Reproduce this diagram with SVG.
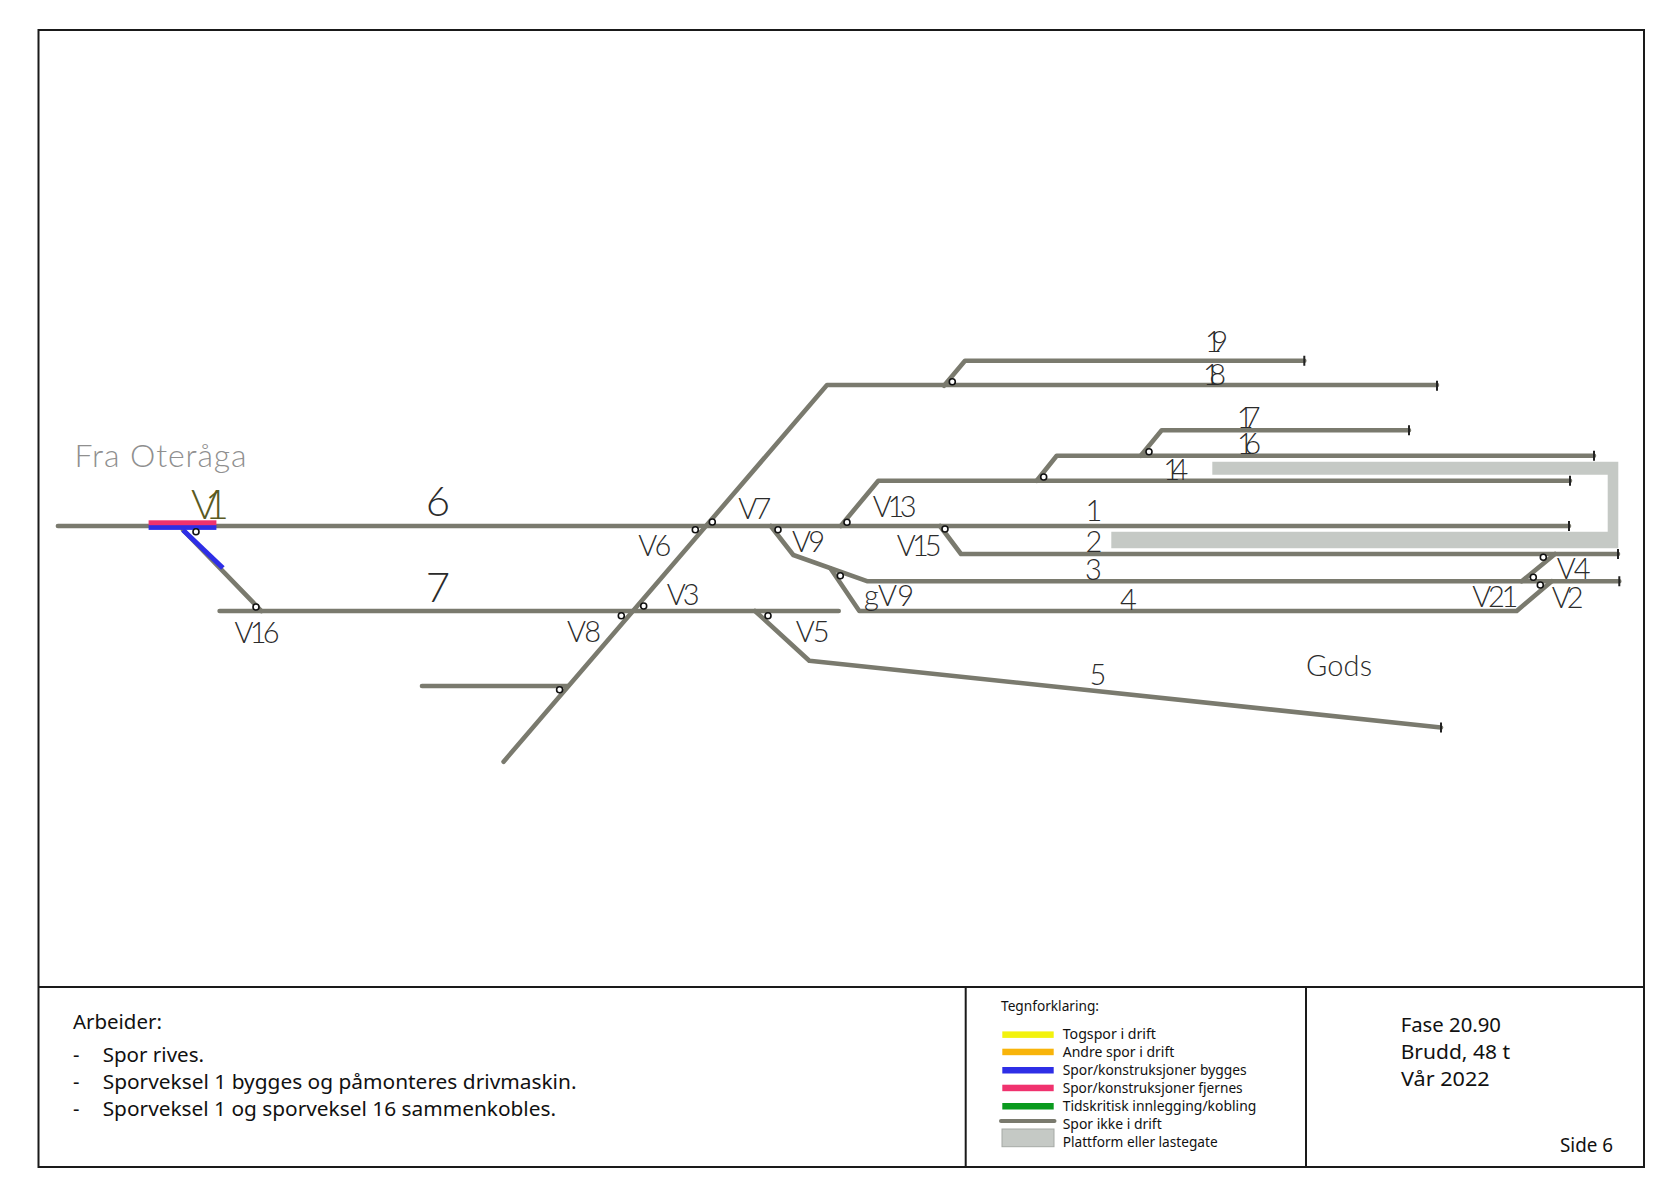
<svg xmlns="http://www.w3.org/2000/svg" width="1680" height="1188" viewBox="0 0 1680 1188">
<style>
.frame{fill:none;stroke:#1a1a1a;stroke-width:2}
.t{fill:none;stroke:#7a7a6e;stroke-width:4.6;stroke-linecap:round;stroke-linejoin:round}
.tick{stroke:#222;stroke-width:2;fill:none}
.sw{fill:#fff;stroke:#111;stroke-width:1.6}
.plat{fill:#c5c9c5}
.cad{font-family:"Lato","Liberation Sans",sans-serif;font-weight:300;fill:#2b2b2b}
.s29{font-size:29px}
.s40{font-size:42px}
.ui{font-family:"Noto Sans","Open Sans",sans-serif;fill:#111}
.leg{font-size:14px}
.main{font-size:20px}
</style>
<rect width="1680" height="1188" fill="#fff"/>
<g id="frame">
<rect class="frame" x="38.5" y="30" width="1605.5" height="1137"/>
<path class="frame" d="M38.5 987H1644M965.7 987V1167M1306 987V1167"/>
</g>
<g id="platforms">
<path class="plat" d="M1212.3 461.7H1618.3V548.3H1111.3V531.7H1607.7V474.7H1212.3Z"/>
</g>
<g id="connectors">
<path class="t" d="M57.9 526H1569"/>
<path class="t" d="M183 530L261.4 611"/>
<path class="t" d="M219.6 611H838.7"/>
<path class="t" d="M503.6 761.7L827 385H1437"/>
<path class="t" d="M422 686H568"/>
<path class="t" d="M944 385.7L965 360.7H1304.3"/>
<path class="t" d="M840.7 526L878.3 480.7H1570"/>
<path class="t" d="M1036.7 480.7L1056.7 455.7H1594"/>
<path class="t" d="M1140.7 455.7L1161.7 430.3H1409"/>
<path class="t" d="M940 526L961 554H1618"/>
<path class="t" d="M770.7 526L793.3 555L867.7 581.3H1619.3"/>
<path class="t" d="M830.7 568.7L859.3 611H1516.7L1551.7 581.3"/>
<path class="t" d="M1521.7 581.3L1555 554"/>
<path class="t" d="M755 611L809.3 660.7L1441 727.5"/>
<path d="M183 530L222.9 568" fill="none" stroke="#2e2ee6" stroke-width="5"/>
<rect x="148.6" y="525" width="67.8" height="4.9" fill="#2e2ee6"/>
<rect x="148.6" y="520.3" width="67.8" height="4.9" fill="#f0326e"/>
<path class="tick" d="M1304.3 355.7v10M1437 380.7v10M1409 425.3v10M1594 450.7v10M1570 475.7v10M1569 521v10M1618 549v10M1619.3 576.3v10M1441 722.5v10"/>
</g>
<g id="switches">
<circle class="sw" cx="196" cy="531.7" r="3"/>
<circle class="sw" cx="256" cy="607" r="3"/>
<circle class="sw" cx="559.6" cy="689.7" r="3"/>
<circle class="sw" cx="621.3" cy="615.7" r="3"/>
<circle class="sw" cx="643.7" cy="606" r="3"/>
<circle class="sw" cx="695.3" cy="529.7" r="3"/>
<circle class="sw" cx="712.3" cy="522" r="3"/>
<circle class="sw" cx="768" cy="615.7" r="3"/>
<circle class="sw" cx="778" cy="529.7" r="3"/>
<circle class="sw" cx="840.3" cy="575.7" r="3"/>
<circle class="sw" cx="847" cy="522.3" r="3"/>
<circle class="sw" cx="945" cy="529" r="3"/>
<circle class="sw" cx="952.3" cy="381.7" r="3"/>
<circle class="sw" cx="1043.7" cy="477" r="3"/>
<circle class="sw" cx="1149" cy="451.7" r="3"/>
<circle class="sw" cx="1543.3" cy="557.3" r="3"/>
<circle class="sw" cx="1533.3" cy="577.3" r="3"/>
<circle class="sw" cx="1540.3" cy="585" r="3"/>
</g>
<g id="labels">
<text class="cad" x="74.6" y="466.7" font-size="32" textLength="172" lengthAdjust="spacing" style="fill:#8f8f8f">Fra Oteråga</text>
<text class="cad s40" x="191" y="519.3" textLength="38" lengthAdjust="spacing" style="fill:#5a5a22">V1</text>
<text class="cad s40" x="438" y="516" text-anchor="middle">6</text>
<text class="cad s40" x="438" y="601.7" text-anchor="middle">7</text>
<text class="cad s29" x="234.6" y="642.7" textLength="45" lengthAdjust="spacing">V16</text>
<text class="cad s29" x="567" y="641.7" textLength="34" lengthAdjust="spacing">V8</text>
<text class="cad s29" x="738.3" y="519" textLength="33" lengthAdjust="spacing">V7</text>
<text class="cad s29" x="638.3" y="556" textLength="33" lengthAdjust="spacing">V6</text>
<text class="cad s29" x="792" y="551.7" textLength="33" lengthAdjust="spacing">V9</text>
<text class="cad s29" x="872.7" y="516.7" textLength="44" lengthAdjust="spacing">V13</text>
<text class="cad s29" x="896.7" y="556" textLength="45" lengthAdjust="spacing">V15</text>
<text class="cad s29" x="666.7" y="604.7" textLength="33" lengthAdjust="spacing">V3</text>
<text class="cad s29" x="795.7" y="642" textLength="34" lengthAdjust="spacing">V5</text>
<text class="cad s29" x="864" y="606" textLength="50" lengthAdjust="spacing">gV9</text>
<text class="cad s29" x="1556.7" y="578.7" textLength="34" lengthAdjust="spacing">V4</text>
<text class="cad s29" x="1472.3" y="606.7" textLength="46" lengthAdjust="spacing">V21</text>
<text class="cad s29" x="1551.7" y="608" textLength="32" lengthAdjust="spacing">V2</text>
<text class="cad s29" x="1205" y="351.7" textLength="23" lengthAdjust="spacing">19</text>
<text class="cad s29" x="1203" y="385" textLength="23" lengthAdjust="spacing">18</text>
<text class="cad s29" x="1236.7" y="427.7" textLength="24" lengthAdjust="spacing">17</text>
<text class="cad s29" x="1237" y="454.3" textLength="24" lengthAdjust="spacing">16</text>
<text class="cad s29" x="1163.3" y="480" textLength="25" lengthAdjust="spacing">14</text>
<text class="cad s29" x="1094" y="521" text-anchor="middle">1</text>
<text class="cad s29" x="1094" y="551.7" text-anchor="middle">2</text>
<text class="cad s29" x="1093.5" y="579.6" text-anchor="middle">3</text>
<text class="cad s29" x="1128.5" y="609.6" text-anchor="middle">4</text>
<text class="cad s29" x="1098" y="684.6" text-anchor="middle">5</text>
<text class="cad s29" x="1306" y="676" textLength="66" lengthAdjust="spacing">Gods</text>
</g>
<g id="notes">
<text class="ui main" x="72.9" y="1029" textLength="89" lengthAdjust="spacingAndGlyphs">Arbeider:</text>
<text class="ui main" x="73" y="1061.7">-</text>
<text class="ui main" x="102.7" y="1061.7" textLength="101.3" lengthAdjust="spacingAndGlyphs">Spor rives.</text>
<text class="ui main" x="73" y="1089">-</text>
<text class="ui main" x="102.7" y="1089" textLength="473.8" lengthAdjust="spacingAndGlyphs">Sporveksel 1 bygges og påmonteres drivmaskin.</text>
<text class="ui main" x="73" y="1115.7">-</text>
<text class="ui main" x="102.7" y="1115.7" textLength="453.3" lengthAdjust="spacingAndGlyphs">Sporveksel 1 og sporveksel 16 sammenkobles.</text>
</g>
<g id="legend">
<text class="ui leg" x="1001" y="1010.7" textLength="98" lengthAdjust="spacingAndGlyphs">Tegnforklaring:</text>
<rect x="1002.3" y="1031.4" width="51.4" height="6.5" fill="#f2f20d"/>
<rect x="1002.3" y="1048.7" width="51.4" height="6.5" fill="#f8b40a"/>
<rect x="1002.3" y="1067" width="51.4" height="6.5" fill="#2e2ee6"/>
<rect x="1002.3" y="1084.7" width="51.4" height="6.5" fill="#f0326e"/>
<rect x="1002.3" y="1103" width="51.4" height="6.5" fill="#0a9a1e"/>
<path d="M1001 1121H1054.5" stroke="#7a7a6e" stroke-width="4" stroke-linecap="round"/>
<rect x="1002" y="1129" width="52" height="17.7" fill="#c5c9c5" stroke="#a5a9a5"/>
<text class="ui leg" x="1062.7" y="1039" textLength="93.3" lengthAdjust="spacingAndGlyphs">Togspor i drift</text>
<text class="ui leg" x="1062.7" y="1057" textLength="111.6" lengthAdjust="spacingAndGlyphs">Andre spor i drift</text>
<text class="ui leg" x="1062.7" y="1075" textLength="184" lengthAdjust="spacingAndGlyphs">Spor/konstruksjoner bygges</text>
<text class="ui leg" x="1062.7" y="1093" textLength="180" lengthAdjust="spacingAndGlyphs">Spor/konstruksjoner fjernes</text>
<text class="ui leg" x="1062.7" y="1111" textLength="193.6" lengthAdjust="spacingAndGlyphs">Tidskritisk innlegging/kobling</text>
<text class="ui leg" x="1062.7" y="1129" textLength="99" lengthAdjust="spacingAndGlyphs">Spor ikke i drift</text>
<text class="ui leg" x="1062.7" y="1147" textLength="155" lengthAdjust="spacingAndGlyphs">Plattform eller lastegate</text>
</g>
<g id="phase">
<text class="ui main" x="1400.7" y="1031.7" textLength="100.3" lengthAdjust="spacingAndGlyphs">Fase 20.90</text>
<text class="ui main" x="1400.7" y="1058.7" textLength="109.3" lengthAdjust="spacingAndGlyphs">Brudd, 48 t</text>
<text class="ui main" x="1401" y="1086" textLength="88.7" lengthAdjust="spacingAndGlyphs">Vår 2022</text>
<text class="ui" x="1560" y="1152" font-size="19" textLength="53" lengthAdjust="spacingAndGlyphs">Side 6</text>
</g>
</svg>
